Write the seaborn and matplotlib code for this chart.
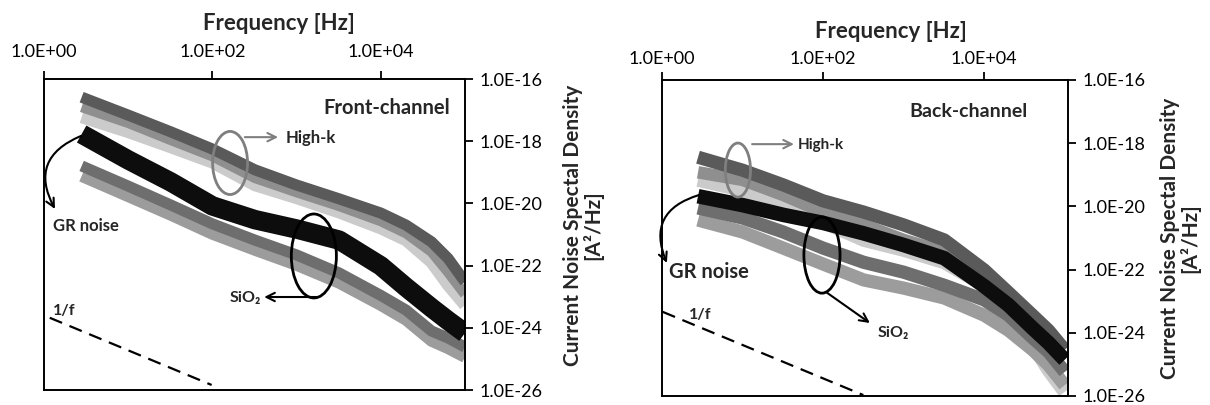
import matplotlib
matplotlib.use("Agg")
import matplotlib.pyplot as plt
import seaborn as sns
import pandas as pd
from matplotlib.patches import Ellipse
from matplotlib.ticker import FixedLocator, FuncFormatter, NullLocator

# ---------------- data ----------------
freq_hz = [2.8, 10, 32, 100, 320, 1000, 3200, 10000, 20000, 40000, 63000, 100000]

# Front-channel [A^2/Hz]
front_highk_dark = [2.6e-17, 6.9e-18, 2.0e-18, 5.6e-19, 1.2e-19, 3.9e-20, 1.4e-20, 4.9e-21, 2.0e-21, 5.8e-22, 1.7e-22, 3.0e-23]
front_highk_mid = [1.26e-17, 3.9e-18, 1.1e-18, 3.3e-19, 6.6e-20, 2.3e-20, 8.3e-21, 2.7e-21, 1.1e-21, 2.8e-22, 6.2e-23, 1.2e-23]
front_highk_light = [6.0e-18, 2.0e-18, 6.5e-19, 2.1e-19, 3.9e-20, 1.5e-20, 5.2e-21, 1.6e-21, 6.6e-22, 1.3e-22, 2.4e-23, 5.4e-24]
front_gr_black = [1.7e-18, 2.5e-19, 4.9e-20, 8.3e-21, 3.0e-21, 1.5e-21, 6.6e-22, 9.8e-23, 2.0e-23, 4.4e-24, 1.7e-24, 6.8e-25]
front_sio2_dark = [1.6e-19, 3.6e-20, 8.9e-21, 2.2e-21, 6.6e-22, 2.2e-22, 5.8e-23, 1.1e-23, 3.7e-24, 7.9e-25, 4.7e-25, 2.4e-25]
front_sio2_light = [7.6e-20, 1.7e-20, 4.3e-21, 1.05e-21, 3.2e-22, 1.05e-22, 2.8e-23, 5.4e-24, 1.8e-24, 3.8e-25, 2.2e-25, 1.15e-25]

# Back-channel [A^2/Hz]
back_highk_dark = [3.6e-19, 1.4e-19, 4.8e-20, 1.5e-20, 6.6e-21, 2.6e-21, 8.7e-22, 9.8e-23, 1.9e-23, 3.6e-24, 1.2e-24, 2.9e-25]
back_highk_mid = [1.2e-19, 6.9e-20, 2.3e-20, 6.6e-21, 2.6e-21, 8.7e-22, 3.6e-22, 6.8e-23, 1.1e-23, 1.2e-24, 2.9e-25, 5.8e-26]
back_highk_light = [6.9e-20, 3.3e-20, 1.1e-20, 3.2e-21, 8.7e-22, 4.2e-22, 1.7e-22, 3.2e-23, 3.6e-24, 4.1e-25, 6.6e-26, 1.35e-26]
back_gr_black = [2.1e-20, 1.1e-20, 5.4e-21, 3.0e-21, 1.4e-21, 6.0e-22, 2.3e-22, 3.0e-23, 7.6e-24, 1.4e-24, 4.8e-25, 1.4e-25]
back_sio2_dark = [8.9e-21, 4.3e-21, 1.55e-21, 4.8e-22, 1.7e-22, 8.3e-23, 3.2e-23, 1.1e-23, 3.6e-24, 6.9e-25, 2.5e-25, 5.8e-26]
back_sio2_light = [3.7e-21, 1.55e-21, 4.8e-22, 1.5e-22, 4.7e-23, 2.6e-23, 1.26e-23, 3.6e-24, 1.2e-24, 2.9e-25, 9.5e-26, 2.2e-26]

# 1/f reference lines (end points)
front_one_over_f_freq = [1.17, 98]
front_one_over_f_psd = [2.1e-24, 1.45e-26]
back_one_over_f_freq = [1.02, 316]
back_one_over_f_psd = [4.6e-24, 1.07e-26]

xtick_vals = [1e0, 1e2, 1e4]
ytick_vals = [1e-16, 1e-18, 1e-20, 1e-22, 1e-24, 1e-26]

# ---------------- style ----------------
sns.set_style("ticks")
plt.rcParams["font.family"] = ["Lato", "DejaVu Sans"]
FAM = ["Lato", "DejaVu Sans"]

fig = plt.figure(figsize=(12.1, 4.05), dpi=100)
ax_f = fig.add_axes([44 / 1210, 1 - 390 / 405, 421 / 1210, 311 / 405])
ax_b = fig.add_axes([662 / 1210, 1 - 396 / 405, 406 / 1210, 316 / 405])

series_style = [
    # (key, color)
    ("highk_light", "#cbcbcb"),
    ("highk_mid", "#8f8f8f"),
    ("highk_dark", "#5a5a5a"),
    ("sio2_light", "#9c9c9c"),
    ("sio2_dark", "#6e6e6e"),
    ("gr_black", "#0d0d0d"),
]

front = {
    "highk_dark": front_highk_dark, "highk_mid": front_highk_mid,
    "highk_light": front_highk_light, "gr_black": front_gr_black,
    "sio2_dark": front_sio2_dark, "sio2_light": front_sio2_light,
}
back = {
    "highk_dark": back_highk_dark, "highk_mid": back_highk_mid,
    "highk_light": back_highk_light, "gr_black": back_gr_black,
    "sio2_dark": back_sio2_dark, "sio2_light": back_sio2_light,
}
front_lw = {"highk_light": 9.0, "highk_mid": 7.5, "highk_dark": 8.0,
            "sio2_light": 8.5, "sio2_dark": 8.0, "gr_black": 14.0}
back_lw = {"highk_light": 10.0, "highk_mid": 9.0, "highk_dark": 9.5,
           "sio2_light": 9.5, "sio2_dark": 9.5, "gr_black": 10.5}

fmt = FuncFormatter(lambda v, p: f"{v:.1E}")


def draw_panel(ax, data, lwmap, of_f, of_s, xmax):
    ax.set_xscale("log")
    ax.set_yscale("log")
    for key, color in series_style:
        df = pd.DataFrame({"f": freq_hz, "S": data[key]})
        sns.lineplot(data=df, x="f", y="S", ax=ax, color=color,
                     linewidth=lwmap[key], estimator=None, sort=False,
                     legend=False, solid_capstyle="butt", solid_joinstyle="round")
    sns.lineplot(x=of_f, y=of_s, ax=ax, color="black", linewidth=1.6,
                 estimator=None, sort=False, legend=False)
    ax.lines[-1].set_dashes((6.0, 3.6))
    ax.set_xlim(1, xmax)
    ax.set_ylim(1e-26, 1e-16)
    ax.xaxis.tick_top()
    ax.xaxis.set_label_position("top")
    ax.yaxis.tick_right()
    ax.yaxis.set_label_position("right")
    ax.xaxis.set_major_locator(FixedLocator(xtick_vals))
    ax.yaxis.set_major_locator(FixedLocator(ytick_vals))
    ax.xaxis.set_minor_locator(NullLocator())
    ax.yaxis.set_minor_locator(NullLocator())
    ax.xaxis.set_major_formatter(fmt)
    ax.yaxis.set_major_formatter(fmt)
    ax.tick_params(axis="both", which="major", direction="out", length=5.5,
                   width=1.3, color="black", labelsize=13, labelcolor="black")
    ax.tick_params(axis="y", pad=5)
    for s in ax.spines.values():
        s.set_visible(True)
        s.set_color("black")
        s.set_linewidth(1.4)
    ax.set_facecolor("white")
    ax.set_xlabel("Frequency [Hz]", fontsize=16, fontweight="bold")
    ax.set_ylabel("Current Noise Spectal Density\n[A²/Hz]", fontsize=15,
                  fontweight="bold", rotation=90, linespacing=0.95)
    ax.xaxis.label.set_verticalalignment("center")
    ax.yaxis.label.set_horizontalalignment("center")
    ax.yaxis.label.set_verticalalignment("center")


draw_panel(ax_f, front, front_lw, front_one_over_f_freq, front_one_over_f_psd, 1e5)
draw_panel(ax_b, back, back_lw, back_one_over_f_freq, back_one_over_f_psd, 1.1e5)

ax_f.tick_params(axis="x", pad=8)
ax_b.tick_params(axis="x", pad=3.5)
ax_f.xaxis.set_label_coords(0.558, 1.18)
ax_b.xaxis.set_label_coords(0.564, 1.155)
ax_f.yaxis.set_label_coords(1.28, 0.53)
ax_b.yaxis.set_label_coords(1.276, 0.50)

ARW = dict(arrowstyle="->,head_length=0.6,head_width=0.3", shrinkA=0, shrinkB=0)


def annotate_panel(ax, title, title_xy, title_fs, hk_ell, hk_arrow, hk_text, hk_fs,
                   si_ell, si_arrow, si_text, si_ha, gr_arrow, gr_text, gr_fs, of_text):
    ax.text(*title_xy, title, transform=ax.transAxes, ha="right", va="center",
            fontsize=title_fs, fontweight="bold", family=FAM)
    ax.add_patch(Ellipse(hk_ell[:2], hk_ell[2], hk_ell[3], transform=ax.transAxes,
                         fill=False, edgecolor="#7f7f7f", lw=2.0, zorder=5))
    ax.annotate("", xy=hk_arrow[1], xytext=hk_arrow[0], xycoords="axes fraction",
                arrowprops=dict(ARW, color="#7f7f7f", lw=1.5), zorder=5)
    ax.text(*hk_text, "High-k", transform=ax.transAxes, ha="left", va="center",
            fontsize=hk_fs, fontweight="bold", family=FAM)
    ax.add_patch(Ellipse(si_ell[:2], si_ell[2], si_ell[3], transform=ax.transAxes,
                         fill=False, edgecolor="black", lw=2.0, zorder=5))
    ax.annotate("", xy=si_arrow[1], xytext=si_arrow[0], xycoords="axes fraction",
                arrowprops=dict(ARW, color="black", lw=1.5), zorder=5)
    ax.text(*si_text, "SiO₂", transform=ax.transAxes, ha=si_ha, va="center",
            fontsize=11.5, fontweight="bold", family=FAM)
    ax.annotate("", xy=gr_arrow[1], xytext=gr_arrow[0], xycoords="axes fraction",
                arrowprops=dict(ARW, color="black", lw=1.5,
                                connectionstyle="arc3,rad=0.55"), zorder=5)
    ax.text(*gr_text, "GR noise", transform=ax.transAxes, ha="left", va="center",
            fontsize=gr_fs, fontweight="bold", family=FAM)
    ax.text(*of_text, "1/f", transform=ax.transAxes, ha="left", va="center",
            fontsize=11.5, fontweight="bold", family=FAM)


annotate_panel(ax_f, "Front-channel", (0.964, 0.907), 14.5,
               (0.442, 0.730, 0.083, 0.203), ((0.477, 0.813), (0.556, 0.813)), (0.575, 0.810), 12,
               (0.641, 0.431, 0.107, 0.270), ((0.648, 0.299), (0.523, 0.299)), (0.515, 0.296), "right",
               ((0.088, 0.817), (0.026, 0.582)), (0.021, 0.527), 12, (0.021, 0.254))
annotate_panel(ax_b, "Back-channel", (0.901, 0.899), 14,
               (0.187, 0.715, 0.062, 0.171), ((0.222, 0.797), (0.325, 0.797)), (0.335, 0.794), 11,
               (0.394, 0.446, 0.089, 0.241), ((0.404, 0.329), (0.512, 0.231)), (0.530, 0.199), "left",
               ((0.091, 0.636), (0.012, 0.421)), (0.017, 0.392), 14.5, (0.067, 0.256))

fig.savefig("out.png", dpi=100, facecolor="white")
